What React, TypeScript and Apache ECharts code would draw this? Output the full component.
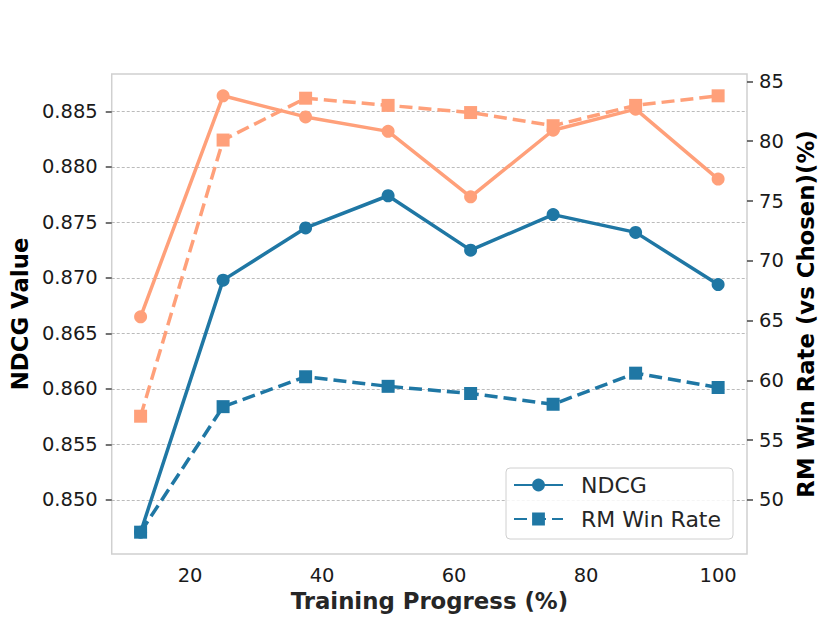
import React, { useEffect, useRef } from "react";
import * as echarts from "echarts";

const xValues = [12.5, 25, 37.5, 50, 62.5, 75, 87.5, 100];
const ndcgBlue = [0.8471, 0.8698, 0.8745, 0.8774, 0.8725, 0.8757, 0.8741, 0.8694];
const ndcgOrange = [0.8665, 0.8864, 0.8845, 0.8832, 0.8773, 0.8833, 0.8852, 0.8789];
const winBlue = [47.3, 57.8, 60.3, 59.5, 58.9, 58.0, 60.6, 59.4];
const winOrange = [57.0, 80.1, 83.6, 83.0, 82.4, 81.3, 83.0, 83.8];
const xTicks = [20, 40, 60, 80, 100];
const leftTicks = [0.85, 0.855, 0.86, 0.865, 0.87, 0.875, 0.88, 0.885];
const rightTicks = [50, 55, 60, 65, 70, 75, 80, 85];

const BLUE = "#1f77a4";
const ORANGE = "#ffa07a";
const FONT = "DejaVu Sans";

function padded(values: number[][]) {
  const all = values.flat();
  const lo = Math.min(...all);
  const hi = Math.max(...all);
  const m = (hi - lo) * 0.05;
  return [lo - m, hi + m];
}

function pairs(ys: number[]) {
  return xValues.map((x, i) => [x, ys[i]]);
}

export default function App() {
  const ref = useRef<HTMLDivElement>(null);
  useEffect(() => {
    document.body.style.margin = "0";
    if (!ref.current) return;
    const chart = echarts.init(ref.current, null, { renderer: "svg" });
    const [lMin, lMax] = padded([ndcgBlue, ndcgOrange]);
    const [rMin, rMax] = padded([winBlue, winOrange]);
    const xm = (xValues[xValues.length - 1] - xValues[0]) * 0.05;
    const tickLabel = { fontFamily: FONT, fontSize: 19.5, color: "#1a1a1a" };
    const nameStyle = { fontFamily: FONT, fontSize: 22.8, fontWeight: "bold" as const, color: "#000" };
    const lineW = 3.5;
    const dash = [13, 6];
    chart.setOption({
      animation: false,
      textStyle: { fontFamily: FONT },
      grid: {
        left: 104,
        right: 83,
        top: 74,
        bottom: 69,
        show: true,
        borderColor: "#d0d0d0",
        borderWidth: 1.5,
        containLabel: false,
      },
      legend: {
        data: ["NDCG", "RM Win Rate"],
        orient: "vertical",
        left: 506,
        top: 468,
        padding: [6, 12, 9, 7],
        itemGap: 12,
        itemWidth: 49,
        itemHeight: 16,
        backgroundColor: "rgba(255,255,255,0.85)",
        borderColor: "#d0d0d0",
        borderWidth: 1,
        borderRadius: 4,
        textStyle: { fontFamily: FONT, fontSize: 22, color: "#262626", padding: [0, 0, 0, 13] },
      },
      xAxis: {
        type: "value",
        min: xValues[0] - xm,
        max: xValues[xValues.length - 1] + xm,
        name: "Training Progress (%)",
        nameLocation: "middle",
        nameGap: 33,
        nameTextStyle: { ...nameStyle, color: "#262626" },
        axisLine: { show: false },
        axisTick: { show: false, customValues: xTicks },
        splitLine: { show: false },
        axisLabel: { ...tickLabel, margin: 11, customValues: xTicks },
      },
      yAxis: [
        {
          type: "value",
          position: "left",
          min: lMin,
          max: lMax,
          name: "NDCG Value",
          nameLocation: "middle",
          nameRotate: 90,
          nameGap: 69,
          nameTextStyle: nameStyle,
          axisLine: { show: false },
          axisTick: { show: true, length: 6, customValues: leftTicks, lineStyle: { color: "#444", width: 1.5 } },
          axisLabel: {
            ...tickLabel,
            margin: 14,
            customValues: leftTicks,
            formatter: (v: number) => v.toFixed(3),
          },
          splitLine: { show: true, lineStyle: { color: "#bbbbbb", width: 1, type: [3, 2] } },
        },
        {
          type: "value",
          position: "right",
          min: rMin,
          max: rMax,
          name: "RM Win Rate (vs Chosen)(%)",
          nameLocation: "middle",
          nameRotate: 90,
          nameGap: 46,
          nameTextStyle: nameStyle,
          axisLine: { show: false },
          axisTick: { show: true, length: 6, customValues: rightTicks, lineStyle: { color: "#444", width: 1.5 } },
          axisLabel: {
            ...tickLabel,
            margin: 12,
            customValues: rightTicks,
            formatter: (v: number) => String(Math.round(v)),
          },
          splitLine: { show: false },
        },
      ],
      series: [
        {
          name: "NDCG",
          type: "line",
          yAxisIndex: 0,
          data: pairs(ndcgBlue),
          symbol: "circle",
          symbolSize: 13,
          lineStyle: { color: BLUE, width: lineW },
          itemStyle: { color: BLUE },
          z: 2,
        },
        {
          name: "NDCG (orange)",
          type: "line",
          yAxisIndex: 0,
          data: pairs(ndcgOrange),
          symbol: "circle",
          symbolSize: 13,
          lineStyle: { color: ORANGE, width: lineW },
          itemStyle: { color: ORANGE },
          z: 2,
        },
        {
          name: "RM Win Rate",
          type: "line",
          yAxisIndex: 1,
          data: pairs(winBlue),
          symbol: "rect",
          symbolSize: 13,
          lineStyle: { color: BLUE, width: lineW, type: dash },
          itemStyle: { color: BLUE },
          z: 3,
        },
        {
          name: "RM Win Rate (orange)",
          type: "line",
          yAxisIndex: 1,
          data: pairs(winOrange),
          symbol: "rect",
          symbolSize: 13,
          lineStyle: { color: ORANGE, width: lineW, type: dash },
          itemStyle: { color: ORANGE },
          z: 3,
        },
      ],
    });
    return () => chart.dispose();
  }, []);
  return <div ref={ref} style={{ width: 830, height: 623 }} />;
}
